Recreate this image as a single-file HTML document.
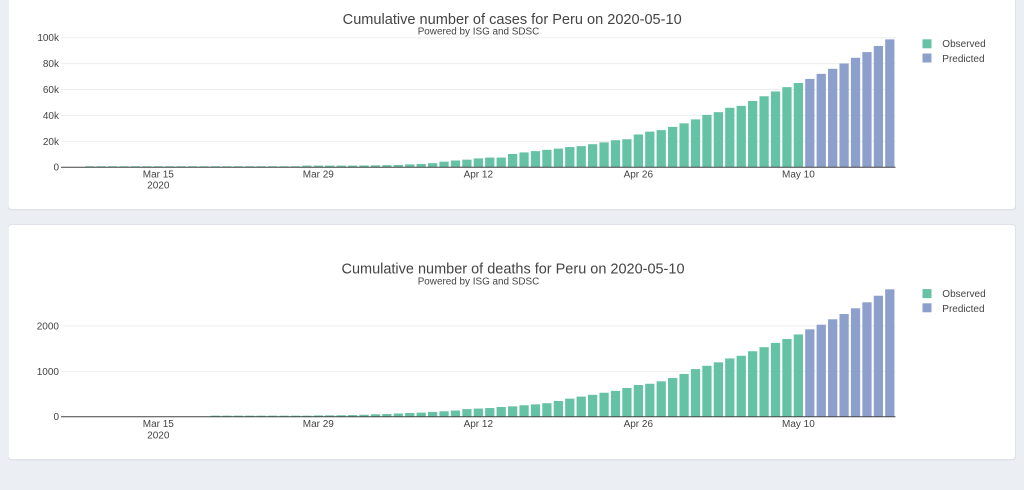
<!DOCTYPE html>
<html>
<head>
<meta charset="utf-8">
<style>
html,body{margin:0;padding:0;background:#ebeef3;}
body{width:1024px;height:490px;overflow:hidden;}
svg{display:block;}
text{font-family:"Liberation Sans",Arial,sans-serif;fill:#444;}
.tk{font-size:10px;}
</style>
</head>
<body>
<svg width="1024" height="490" viewBox="0 0 1024 490" xmlns="http://www.w3.org/2000/svg">
<rect x="0" y="0" width="1024" height="490" fill="#ebeef3"/>
<!-- cards -->
<rect x="8" y="-10" width="1008" height="220.5" rx="3" fill="#dfe3e9"/>
<rect x="8.5" y="-10" width="1006.5" height="219" rx="3" fill="#ffffff"/>
<rect x="8" y="224" width="1008" height="236.5" rx="3" fill="#dfe3e9"/>
<rect x="8.5" y="225" width="1006.5" height="234" rx="3" fill="#ffffff"/>

<!-- ========== TOP CHART ========== -->
<g stroke="#eeeeee" stroke-width="1">
<line x1="61" x2="895.5" y1="37.7" y2="37.7"/>
<line x1="61" x2="895.5" y1="63.6" y2="63.6"/>
<line x1="61" x2="895.5" y1="89.5" y2="89.5"/>
<line x1="61" x2="895.5" y1="115.5" y2="115.5"/>
<line x1="61" x2="895.5" y1="141.4" y2="141.4"/>
</g>
<g transform="translate(158.3,167.3) scale(11.43,-0.001296)" fill="#66c2a5">
<rect x="-6.405" width=".81" height="800"/>
<rect x="-5.405" width=".81" height="800"/>
<rect x="-4.405" width=".81" height="800"/>
<rect x="-3.405" width=".81" height="800"/>
<rect x="-2.405" width=".81" height="800"/>
<rect x="-1.405" width=".81" height="800"/>
<rect x="-0.405" width=".81" height="800"/>
<rect x="0.595" width=".81" height="800"/>
<rect x="1.595" width=".81" height="800"/>
<rect x="2.595" width=".81" height="800"/>
<rect x="3.595" width=".81" height="800"/>
<rect x="4.595" width=".81" height="800"/>
<rect x="5.595" width=".81" height="800"/>
<rect x="6.595" width=".81" height="800"/>
<rect x="7.595" width=".81" height="800"/>
<rect x="8.595" width=".81" height="800"/>
<rect x="9.595" width=".81" height="800"/>
<rect x="10.595" width=".81" height="800"/>
<rect x="11.595" width=".81" height="800"/>
<rect x="12.595" width=".81" height="1300"/>
<rect x="13.595" width=".81" height="1300"/>
<rect x="14.595" width=".81" height="1300"/>
<rect x="15.595" width=".81" height="1300"/>
<rect x="16.595" width=".81" height="1300"/>
<rect x="17.595" width=".81" height="1400"/>
<rect x="18.595" width=".81" height="1500"/>
<rect x="19.595" width=".81" height="1650"/>
<rect x="20.595" width=".81" height="1800"/>
<rect x="21.595" width=".81" height="2281"/>
<rect x="22.595" width=".81" height="2561"/>
<rect x="23.595" width=".81" height="3200"/>
<rect x="24.595" width=".81" height="4342"/>
<rect x="25.595" width=".81" height="5256"/>
<rect x="26.595" width=".81" height="5897"/>
<rect x="27.595" width=".81" height="6848"/>
<rect x="28.595" width=".81" height="7519"/>
<rect x="29.595" width=".81" height="7519"/>
<rect x="30.595" width=".81" height="10303"/>
<rect x="31.595" width=".81" height="11475"/>
<rect x="32.595" width=".81" height="12491"/>
<rect x="33.595" width=".81" height="13489"/>
<rect x="34.595" width=".81" height="14420"/>
<rect x="35.595" width=".81" height="15628"/>
<rect x="36.595" width=".81" height="16325"/>
<rect x="37.595" width=".81" height="17837"/>
<rect x="38.595" width=".81" height="19250"/>
<rect x="39.595" width=".81" height="20914"/>
<rect x="40.595" width=".81" height="21648"/>
<rect x="41.595" width=".81" height="25331"/>
<rect x="42.595" width=".81" height="27517"/>
<rect x="43.595" width=".81" height="28699"/>
<rect x="44.595" width=".81" height="31190"/>
<rect x="45.595" width=".81" height="33931"/>
<rect x="46.595" width=".81" height="36976"/>
<rect x="47.595" width=".81" height="40459"/>
<rect x="48.595" width=".81" height="42534"/>
<rect x="49.595" width=".81" height="45928"/>
<rect x="50.595" width=".81" height="47372"/>
<rect x="51.595" width=".81" height="51189"/>
<rect x="52.595" width=".81" height="54817"/>
<rect x="53.595" width=".81" height="58526"/>
<rect x="54.595" width=".81" height="61847"/>
<rect x="55.595" width=".81" height="65015"/>
</g>
<g transform="translate(158.3,167.3) scale(11.43,-0.001296)" fill="#8da0cb">
<rect x="56.595" width=".81" height="68200"/>
<rect x="57.595" width=".81" height="72100"/>
<rect x="58.595" width=".81" height="76000"/>
<rect x="59.595" width=".81" height="80100"/>
<rect x="60.595" width=".81" height="84500"/>
<rect x="61.595" width=".81" height="88900"/>
<rect x="62.595" width=".81" height="93600"/>
<rect x="63.595" width=".81" height="98700"/>
</g>
<line x1="61" x2="895.5" y1="167.3" y2="167.3" stroke="#444" stroke-width="1"/>
<g class="tk" text-anchor="end">
<text x="59" y="41.1">100k</text>
<text x="59" y="67">80k</text>
<text x="59" y="92.9">60k</text>
<text x="59" y="118.9">40k</text>
<text x="59" y="144.8">20k</text>
<text x="59" y="170.7">0</text>
</g>
<g class="tk" text-anchor="middle">
<text x="158.3" y="177.4">Mar 15</text>
<text x="158.3" y="188.7">2020</text>
<text x="318.3" y="177.4">Mar 29</text>
<text x="478.3" y="177.4">Apr 12</text>
<text x="638.3" y="177.4">Apr 26</text>
<text x="798.4" y="177.4">May 10</text>
</g>
<text x="342.7" y="23.8" font-size="14.5" textLength="339" lengthAdjust="spacingAndGlyphs">Cumulative number of cases for Peru on 2020-05-10</text>
<text x="417.7" y="34.6" font-size="10" textLength="121.6" lengthAdjust="spacingAndGlyphs">Powered by ISG and SDSC</text>
<rect x="922.5" y="39.3" width="9" height="9" fill="#66c2a5"/>
<rect x="922.5" y="53.5" width="9" height="9" fill="#8da0cb"/>
<text class="tk" x="942.3" y="47.2">Observed</text>
<text class="tk" x="942.3" y="62">Predicted</text>

<!-- ========== BOTTOM CHART ========== -->
<g stroke="#eeeeee" stroke-width="1">
<line x1="61" x2="895.5" y1="326" y2="326"/>
<line x1="61" x2="895.5" y1="371.4" y2="371.4"/>
</g>
<g transform="translate(158.3,416.8) scale(11.43,-0.0454)" fill="#66c2a5">
<rect x="4.595" width=".81" height="25"/>
<rect x="5.595" width=".81" height="25"/>
<rect x="6.595" width=".81" height="25"/>
<rect x="7.595" width=".81" height="25"/>
<rect x="8.595" width=".81" height="25"/>
<rect x="9.595" width=".81" height="25"/>
<rect x="10.595" width=".81" height="25"/>
<rect x="11.595" width=".81" height="25"/>
<rect x="12.595" width=".81" height="25"/>
<rect x="13.595" width=".81" height="30"/>
<rect x="14.595" width=".81" height="32"/>
<rect x="15.595" width=".81" height="34"/>
<rect x="16.595" width=".81" height="38"/>
<rect x="17.595" width=".81" height="45"/>
<rect x="18.595" width=".81" height="55"/>
<rect x="19.595" width=".81" height="61"/>
<rect x="20.595" width=".81" height="73"/>
<rect x="21.595" width=".81" height="83"/>
<rect x="22.595" width=".81" height="92"/>
<rect x="23.595" width=".81" height="107"/>
<rect x="24.595" width=".81" height="121"/>
<rect x="25.595" width=".81" height="138"/>
<rect x="26.595" width=".81" height="169"/>
<rect x="27.595" width=".81" height="181"/>
<rect x="28.595" width=".81" height="193"/>
<rect x="29.595" width=".81" height="216"/>
<rect x="30.595" width=".81" height="230"/>
<rect x="31.595" width=".81" height="254"/>
<rect x="32.595" width=".81" height="274"/>
<rect x="33.595" width=".81" height="300"/>
<rect x="34.595" width=".81" height="348"/>
<rect x="35.595" width=".81" height="400"/>
<rect x="36.595" width=".81" height="445"/>
<rect x="37.595" width=".81" height="484"/>
<rect x="38.595" width=".81" height="530"/>
<rect x="39.595" width=".81" height="572"/>
<rect x="40.595" width=".81" height="634"/>
<rect x="41.595" width=".81" height="700"/>
<rect x="42.595" width=".81" height="728"/>
<rect x="43.595" width=".81" height="782"/>
<rect x="44.595" width=".81" height="854"/>
<rect x="45.595" width=".81" height="943"/>
<rect x="46.595" width=".81" height="1051"/>
<rect x="47.595" width=".81" height="1124"/>
<rect x="48.595" width=".81" height="1200"/>
<rect x="49.595" width=".81" height="1286"/>
<rect x="50.595" width=".81" height="1344"/>
<rect x="51.595" width=".81" height="1444"/>
<rect x="52.595" width=".81" height="1533"/>
<rect x="53.595" width=".81" height="1627"/>
<rect x="54.595" width=".81" height="1714"/>
<rect x="55.595" width=".81" height="1814"/>
</g>
<g transform="translate(158.3,416.8) scale(11.43,-0.0454)" fill="#8da0cb">
<rect x="56.595" width=".81" height="1927"/>
<rect x="57.595" width=".81" height="2029"/>
<rect x="58.595" width=".81" height="2148"/>
<rect x="59.595" width=".81" height="2264"/>
<rect x="60.595" width=".81" height="2390"/>
<rect x="61.595" width=".81" height="2522"/>
<rect x="62.595" width=".81" height="2667"/>
<rect x="63.595" width=".81" height="2808"/>
</g>
<line x1="61" x2="895.5" y1="416.8" y2="416.8" stroke="#444" stroke-width="1"/>
<g class="tk" text-anchor="end">
<text x="59" y="329.4">2000</text>
<text x="59" y="374.8">1000</text>
<text x="59" y="420.2">0</text>
</g>
<g class="tk" text-anchor="middle">
<text x="158.3" y="426.8">Mar 15</text>
<text x="158.3" y="438.3">2020</text>
<text x="318.3" y="426.8">Mar 29</text>
<text x="478.3" y="426.8">Apr 12</text>
<text x="638.3" y="426.8">Apr 26</text>
<text x="798.4" y="426.8">May 10</text>
</g>
<text x="341.5" y="273.6" font-size="14.5" textLength="343" lengthAdjust="spacingAndGlyphs">Cumulative number of deaths for Peru on 2020-05-10</text>
<text x="417.7" y="284.4" font-size="10" textLength="121.6" lengthAdjust="spacingAndGlyphs">Powered by ISG and SDSC</text>
<rect x="922.5" y="289.1" width="9" height="9" fill="#66c2a5"/>
<rect x="922.5" y="303.3" width="9" height="9" fill="#8da0cb"/>
<text class="tk" x="942.3" y="297">Observed</text>
<text class="tk" x="942.3" y="311.8">Predicted</text>
</svg>
</body>
</html>
